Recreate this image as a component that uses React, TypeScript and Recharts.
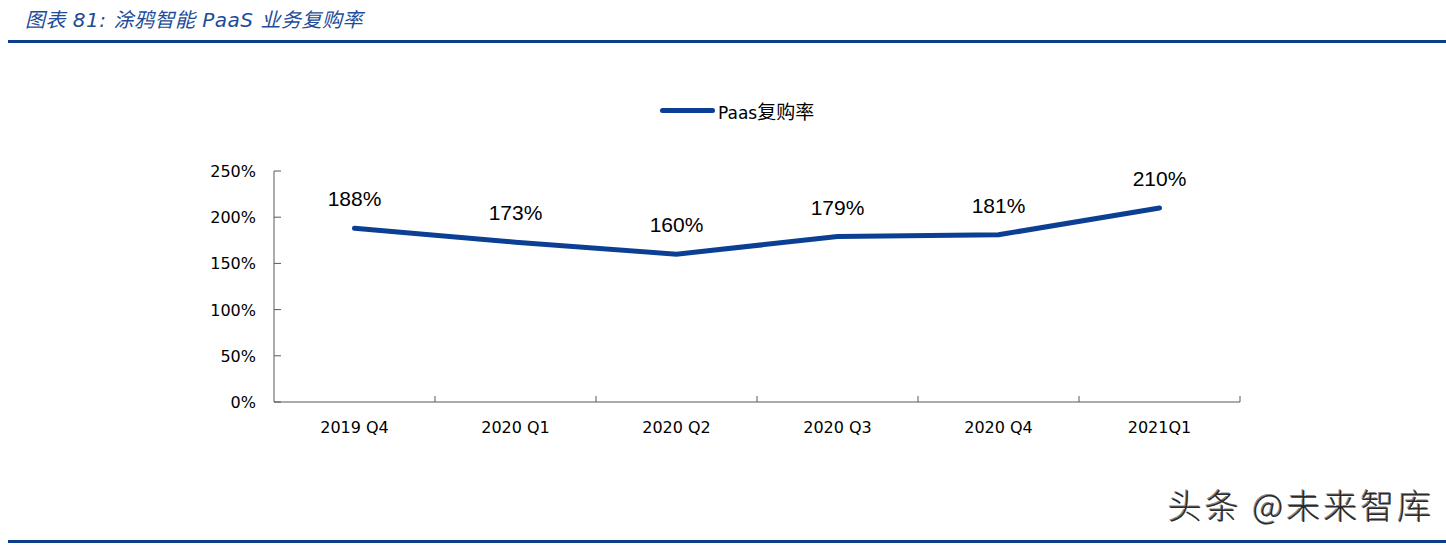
import React from 'react';
import { LineChart, Line, XAxis, YAxis, LabelList } from 'recharts';

// ── Data ─────────────────────────────────────────────────────────────────

const quarters = ['2019 Q4', '2020 Q1', '2020 Q2', '2020 Q3', '2020 Q4', '2021Q1'];
const repurchaseRate = [188, 173, 160, 179, 181, 210];
const yTicks = [0, 50, 100, 150, 200, 250];

const data = quarters.map((q, i) => ({ quarter: q, rate: repurchaseRate[i] }));

// ── Layout / style ───────────────────────────────────────────────────────

const W = 1446;
const H = 547;
const PLOT_LEFT = 274;
const PLOT_RIGHT = 1240;
const BAND = (PLOT_RIGHT - PLOT_LEFT) / quarters.length;

const LINE_BLUE = '#0a3f93';
const RULE_BLUE = '#0b3f8c';
const AXIS_GRAY = '#595959';
const TICK_FONT = '"DejaVu Sans", Verdana, sans-serif';

function XTick({ x, y, payload }: { x?: number; y?: number; payload?: { value: string } }) {
  const cx = x ?? 0;
  const cy = y ?? 0;
  return (
    <g>
      <line x1={cx + BAND / 2} x2={cx + BAND / 2} y1={cy} y2={cy - 6} stroke={AXIS_GRAY} strokeWidth={1} />
      <text x={cx} y={cy + 31} textAnchor="middle" fill="#000" fontSize={16} fontFamily={TICK_FONT}>
        {payload?.value}
      </text>
    </g>
  );
}

function YTick({ x, y, payload }: { x?: number; y?: number; payload?: { value: number } }) {
  const cx = x ?? 0;
  const cy = y ?? 0;
  return (
    <g>
      <line x1={cx} x2={cx + 7} y1={cy} y2={cy} stroke={AXIS_GRAY} strokeWidth={1} />
      <text x={cx - 18} y={cy + 6} textAnchor="end" fill="#000" fontSize={16} fontFamily={TICK_FONT}>
        {`${payload?.value}%`}
      </text>
    </g>
  );
}

function PointLabel({ x, y, value }: { x?: number; y?: number; value?: number }) {
  return (
    <text
      x={x}
      y={(y ?? 0) - 22}
      textAnchor="middle"
      fill="#000"
      fontSize={21}
      fontFamily='"Liberation Sans", Arial, sans-serif'
    >
      {`${value}%`}
    </text>
  );
}

export default function App() {
  return (
    <div style={{ position: 'absolute', left: 0, top: 0, width: W, height: H, background: '#fff', overflow: 'hidden' }}>
      {/* title */}
      <div
        style={{
          position: 'absolute', left: 25, top: 4, fontSize: 20, fontStyle: 'italic', letterSpacing: 0.5,
          color: '#1c4c9a', fontFamily: '"DejaVu Sans", "Noto Sans CJK SC", sans-serif', whiteSpace: 'nowrap',
        }}
      >
        图表 81: 涂鸦智能 PaaS 业务复购率
      </div>
      <div style={{ position: 'absolute', left: 8, top: 40, width: W - 8, height: 3, background: RULE_BLUE }} />

      {/* legend */}
      <div style={{ position: 'absolute', left: 660, top: 97, display: 'flex', alignItems: 'center', whiteSpace: 'nowrap' }}>
        <span style={{ display: 'inline-block', width: 55, height: 5, borderRadius: 3, background: LINE_BLUE }} />
        <span style={{ marginLeft: 3, fontSize: 17, color: '#000', fontFamily: '"DejaVu Sans", sans-serif' }}>
          Paas
          <span style={{ fontSize: 19, fontFamily: '"Noto Sans CJK SC", sans-serif' }}>复购率</span>
        </span>
      </div>

      <LineChart width={W} height={H} data={data} margin={{ top: 171, right: W - PLOT_RIGHT, bottom: 115, left: PLOT_LEFT - 60 }}>
        <XAxis
          dataKey="quarter"
          height={30}
          padding={{ left: BAND / 2, right: BAND / 2 }}
          axisLine={{ stroke: AXIS_GRAY }}
          tickLine={false}
          tickSize={0}
          tickMargin={0}
          interval={0}
          tick={XTick as any}
        />
        <YAxis
          width={60}
          domain={[0, 250]}
          ticks={yTicks}
          axisLine={{ stroke: AXIS_GRAY }}
          tickLine={false}
          tickSize={0}
          tickMargin={0}
          interval={0}
          tick={YTick as any}
        />
        <Line
          type="linear"
          dataKey="rate"
          stroke={LINE_BLUE}
          strokeWidth={5}
          strokeLinecap="round"
          dot={false}
          isAnimationActive={false}
        >
          <LabelList dataKey="rate" content={PointLabel as any} />
        </Line>
      </LineChart>

      {/* watermark */}
      <div
        style={{
          position: 'absolute', left: 1168, top: 480, fontSize: 34, letterSpacing: 3, color: '#2a2a2a', whiteSpace: 'nowrap',
          fontFamily: '"Noto Sans CJK SC", sans-serif', fontWeight: 300,
          textShadow: '1px 1px 0 #fff, -1px -1px 0 #888',
        }}
      >
        头条 @未来智库
      </div>
      <div style={{ position: 'absolute', left: 8, top: 540, width: W - 8, height: 3, background: RULE_BLUE }} />
    </div>
  );
}
